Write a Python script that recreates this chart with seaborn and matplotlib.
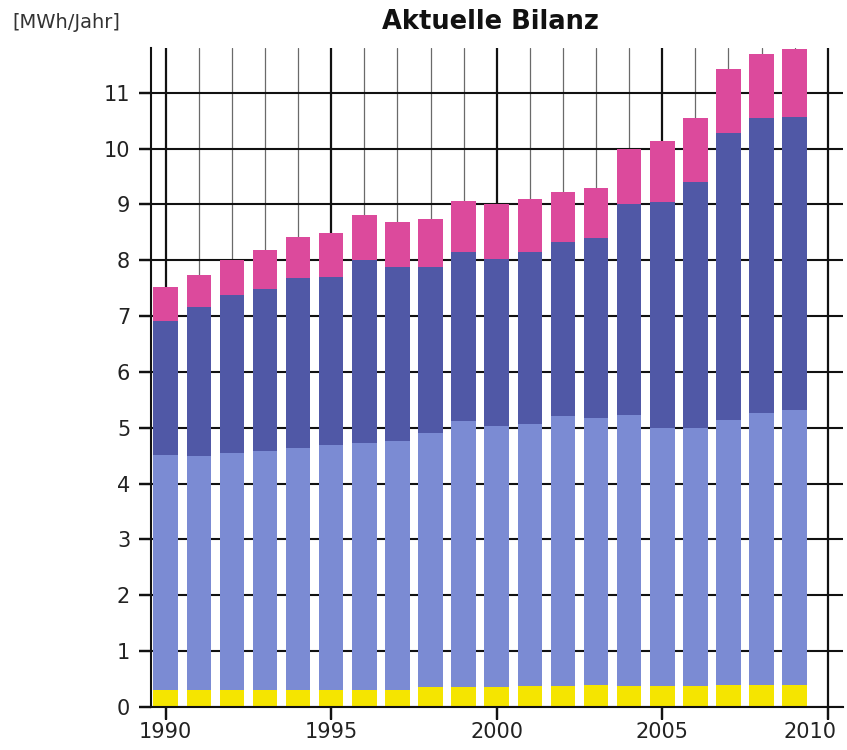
import matplotlib
matplotlib.use("Agg")
import matplotlib.pyplot as plt
import matplotlib.transforms as mtransforms
import numpy as np
import pandas as pd
import seaborn as sns
from matplotlib.ticker import MultipleLocator

# ---- data ----
years = list(range(1990, 2010))
yellow = [0.30, 0.30, 0.30, 0.30, 0.30, 0.30, 0.30, 0.30, 0.35, 0.36,
          0.36, 0.37, 0.38, 0.40, 0.37, 0.37, 0.38, 0.40, 0.40, 0.40]
light_blue = [4.21, 4.19, 4.25, 4.28, 4.33, 4.39, 4.43, 4.47, 4.56, 4.77,
              4.67, 4.69, 4.83, 4.77, 4.86, 4.63, 4.62, 4.74, 4.87, 4.92]
dark_blue = [2.41, 2.67, 2.82, 2.91, 3.05, 3.01, 3.27, 3.11, 2.97, 3.02,
             2.99, 3.09, 3.12, 3.22, 3.78, 4.04, 4.40, 5.13, 5.27, 5.25]
magenta = [0.60, 0.57, 0.64, 0.70, 0.73, 0.78, 0.81, 0.81, 0.86, 0.91,
           0.99, 0.94, 0.90, 0.91, 0.98, 1.09, 1.14, 1.16, 1.15, 1.21]

title = "Aktuelle Bilanz"
unit_label = "[MWh/Jahr]"
x_ticks = [1990, 1995, 2000, 2005, 2010]
y_ticks = list(range(0, 12))

series_names = ["yellow", "light_blue", "dark_blue", "magenta"]
series_colors = ["#f5e500", "#7b8bd3", "#5058a6", "#dc4a9c"]

# ---- table for seaborn ----
df = pd.DataFrame({"Jahr": years, "yellow": yellow, "light_blue": light_blue,
                   "dark_blue": dark_blue, "magenta": magenta})
cum = df[series_names].cumsum(axis=1)
for n in series_names:
    df["top_" + n] = cum[n]

sns.set_theme(style="ticks", rc={
    "xtick.bottom": True, "ytick.left": True,
    "xtick.major.size": 9, "ytick.major.size": 9,
    "xtick.major.width": 1.6, "ytick.major.width": 1.6,
    "xtick.color": "#111111", "ytick.color": "#111111",
    "xtick.minor.size": 0, "ytick.minor.size": 0,
})
plt.rcParams["font.family"] = ["DejaVu Sans"]

fig = plt.figure(figsize=(8.47, 7.5), dpi=100)
ax = fig.add_axes([151 / 847, 1 - 707 / 750, (843 - 151) / 847, (707 - 48) / 750])

# stacked bars: draw cumulative tops from highest to lowest
for n, c in zip(reversed(series_names), reversed(series_colors)):
    sns.barplot(data=df, x="Jahr", y="top_" + n, native_scale=True, orient="x",
                color=c, saturation=1, width=0.74, errorbar=None,
                linewidth=0, ax=ax, zorder=3)

ax.set_xlim(1989.556, 2010.46)
ax.set_ylim(0, 11.8)
ax.set_xticks(x_ticks)
ax.set_xticklabels([str(t) for t in x_ticks])
ax.xaxis.set_minor_locator(MultipleLocator(1))
ax.set_yticks(y_ticks)
ax.set_yticklabels([str(t) for t in y_ticks])
ax.set_xlabel("")
ax.set_ylabel("")

ax.set_axisbelow(False)
ax.grid(which="major", axis="x", color="#111111", linewidth=1.6, zorder=1)
ax.grid(which="minor", axis="x", color="#6a6a6a", linewidth=0.9, zorder=1)
ax.grid(which="major", axis="y", color="#111111", linewidth=1.5, zorder=1)

for s in ["top", "right"]:
    ax.spines[s].set_visible(False)
for s in ["left", "bottom"]:
    ax.spines[s].set_color("#111111")
    ax.spines[s].set_linewidth(1.5)
    ax.spines[s].set_zorder(4)

ax.tick_params(axis="both", which="major", direction="out", length=9, width=1.6,
               color="#111111", labelsize=15, labelcolor="#222222")
ax.tick_params(axis="x", which="major", bottom=True, pad=2)
ax.tick_params(axis="y", which="major", left=True, pad=6)
ax.tick_params(axis="both", which="minor", length=0)

# explicit outward tick marks (axis decoration, positioned at the tick values)
tick_len_x = 12 / 692   # in axes fraction (horizontal)
tick_len_y = 12 / 659   # in axes fraction (vertical)
ytrans = ax.get_yaxis_transform()
xtrans = ax.get_xaxis_transform()
for v in y_ticks:
    ax.plot([-tick_len_x, 0], [v, v], transform=ytrans, color="#111111",
            linewidth=1.6, clip_on=False, solid_capstyle="butt", zorder=5)
for v in x_ticks:
    ax.plot([v, v], [-tick_len_y, 0], transform=xtrans, color="#111111",
            linewidth=1.6, clip_on=False, solid_capstyle="butt", zorder=5)
ax.set_xlim(1989.556, 2010.46)
ax.set_ylim(0, 11.8)

# keep the last x tick label inside the figure, as in the reference
last = ax.get_xticklabels()[-1]
last.set_horizontalalignment("right")
last.set_transform(last.get_transform() +
                   mtransforms.ScaledTranslation(9 / 100, 0, fig.dpi_scale_trans))

fig.text(490 / 847, 1 - 22 / 750, title, ha="center", va="center",
         fontsize=18.5, fontweight="bold", color="#111111")
fig.text(12 / 847, 1 - 22 / 750, unit_label, ha="left", va="center",
         fontsize=14, color="#333333")

fig.savefig("out.png", dpi=100, facecolor="white")
